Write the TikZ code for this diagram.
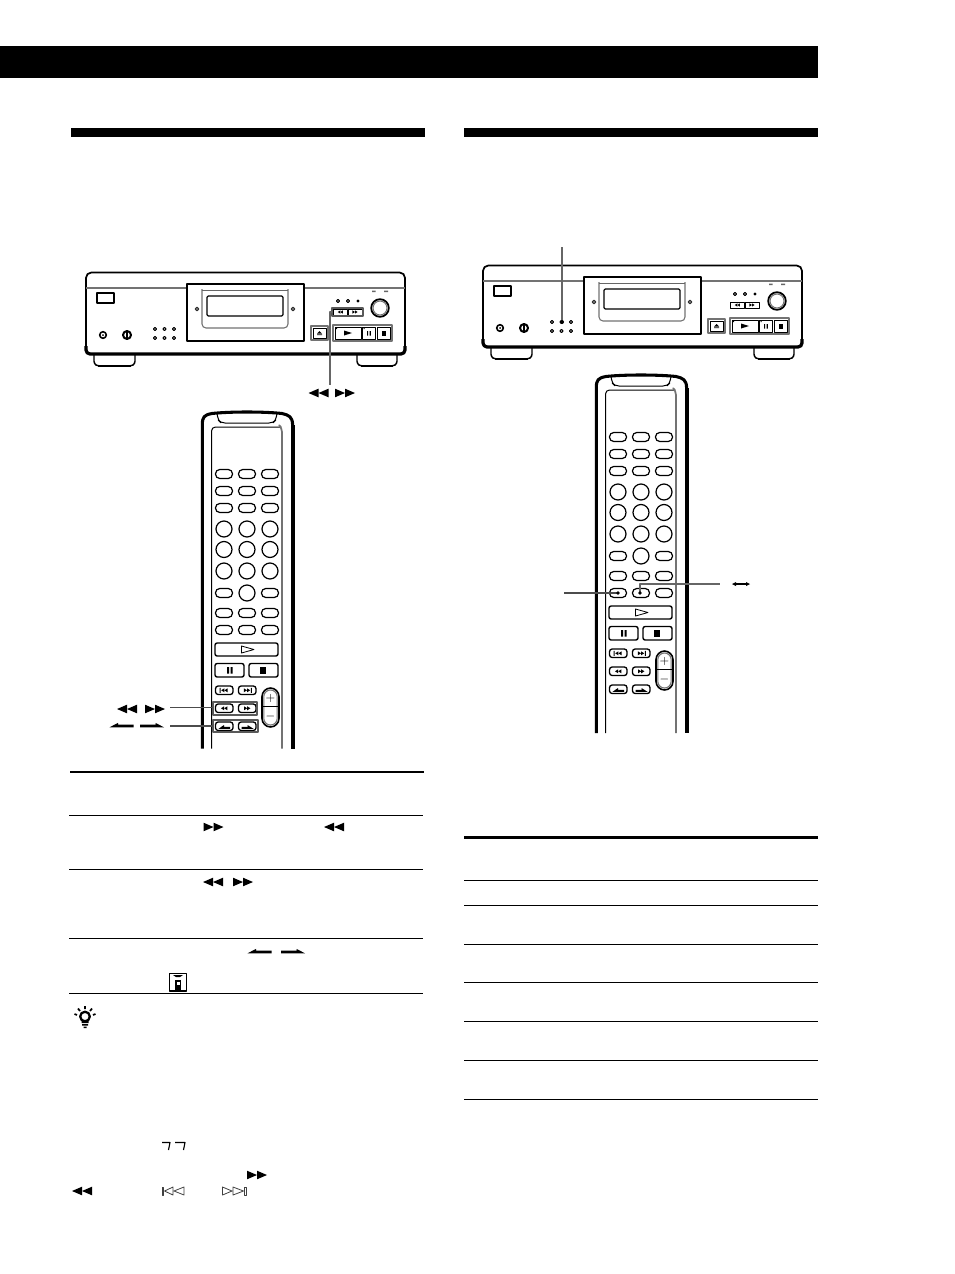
\documentclass[tikz,border=0pt]{standalone}
\begin{document}
\begin{tikzpicture}[x=0.75pt,y=-0.75pt,line join=round,
  every node/.style={inner sep=0,outer sep=0},
  thinl/.style={draw=black,line width=0.75pt},
  midl/.style={draw=black,line width=0.9pt},
  rulel/.style={draw=black,line width=0.75pt},
  ruleh/.style={draw=black,line width=1.9pt},
  hilite/.style={draw=black!65,line width=1.5pt},
  grayb/.style={draw=black!55,line width=0.8pt},
  leader/.style={draw=black!60,line width=1pt},
  leaderb/.style={draw=black!70,line width=1.3pt},
  oval/.style={draw=black,line width=0.9pt,rounded corners=3.2pt},
  keybtn/.style={draw=black,line width=1.05pt,rounded corners=1.6pt},
  smallbtn/.style={draw=black,line width=1pt,rounded corners=2pt},
  pics/ffw/.style={code={\fill (-10,-4.3)--(0,0)--(-10,4.3)--cycle; \fill (0,-4.3)--(10,0)--(0,4.3)--cycle;}},
  pics/rew/.style={code={\fill (10,-4.3)--(0,0)--(10,4.3)--cycle; \fill (0,-4.3)--(-10,0)--(0,4.3)--cycle;}},
  pics/tinyf/.style={code={\fill (-3.2,-2)--(0,0)--(-3.2,2)--cycle; \fill (0,-2)--(3.2,0)--(0,2)--cycle;}},
  pics/tinyr/.style={code={\fill (3.2,-2)--(0,0)--(3.2,2)--cycle; \fill (0,-2)--(-3.2,0)--(0,2)--cycle;}},
  pics/halfl/.style={code={\fill (0,1.8)--(8.5,-2.6)--(8.5,-1)--(24,-1)--(24,1.8)--cycle;}},
  pics/halfr/.style={code={\fill (24,1.8)--(15.5,-2.6)--(15.5,-1)--(0,-1)--(0,1.8)--cycle;}},
]
\useasboundingbox (0,0) rectangle (954,1274);
\fill[white] (0,0) rectangle (954,1274);

% page bars
\fill[black] (0,46) rectangle (818,78);
\fill[black] (71,128) rectangle (425,137);
\fill[black] (464,128) rectangle (818,137);

% player drawing
\newcommand\playerbody[2]{%
\begin{scope}[shift={(#1,#2)}]
  \draw[draw=black,line width=1.1pt,rounded corners=2pt,fill=white] (94,352) -- (94,364) -- (98,366) -- (131,366) -- (135,364) -- (135,352);
  \draw[draw=black,line width=1.1pt,rounded corners=2pt,fill=white] (357,352) -- (357,364) -- (361,366) -- (393,366) -- (397,364) -- (397,352);
  \draw[draw=black,line width=1.7pt] (98,366) -- (131,366) (361,366) -- (393,366);
  \draw[draw=black,line width=1.3pt,rounded corners=4pt,fill=white] (86,272.5) rectangle (405,354);
  \draw[draw=black,line width=2.4pt,rounded corners=3pt] (86,346) -- (86,354) -- (405,354) -- (405,346);
  \draw[grayb] (86,288) -- (187,288) (304,288) -- (405,288);
  \draw[draw=black,line width=1pt] (97,293) rectangle (114,303);
  \draw[draw=black,line width=1.2pt] (103,335) circle (3.3);
  \fill (103,335) circle (1);
  \draw[draw=black,line width=1.5pt] (127,335) circle (4);
  \fill (126.2,330.5) rectangle (128.2,339.5);
  \foreach \x in {155,164.5,174} \foreach \y in {329,338} { \draw[thinl] (\x,\y) circle (1.6); }
  \draw[draw=black,line width=1.05pt,fill=white] (187,284) rectangle (304,341);
  \draw[grayb,rounded corners=3pt] (202,289) -- (202,328) -- (288,328) -- (288,289);
  \draw[draw=black!60,line width=0.7pt] (202,290) -- (288,290);
  \draw[midl,rounded corners=1pt] (207,296) rectangle (283,316);
  \draw[draw=black!80,line width=0.9pt] (197,309) circle (1.8) (293,309) circle (1.8);
  \foreach \x in {338,348} { \draw[thinl] (\x,301) circle (1.6); }
  \fill (358,301) circle (1.7);
  \draw[draw=black,line width=1.35pt] (380,308) circle (8.8);
  \draw[grayb] (380,308) circle (7);
  \fill[black!60] (372,290.5) rectangle (375.5,292.2) (384,290.5) rectangle (388,292.2);
  \draw[grayb] (311,326) rectangle (328,340);
  \draw[thinl] (313,328) rectangle (326,338.5);
  \fill (319.5,331) -- (322,333.5) -- (317,333.5) -- cycle (317,334.3) rectangle (322,335.2);
  \draw[grayb] (333,325) rectangle (392,341);
  \draw[thinl] (335,327) rectangle (361,339);
  \draw[thinl] (362.5,327) rectangle (375,339);
  \draw[thinl] (377,327) rectangle (390,339);
  \fill (344,330.5) -- (352,333) -- (344,335.5) -- cycle;
  \fill (367,331) rectangle (368.2,335.5) (369.6,331) rectangle (370.8,335.5);
  \fill (381.5,331) rectangle (385.5,335.5);
  \fill (336,328) rectangle (337,329) (363.5,328) rectangle (364.5,329);
  \draw[thinl] (333.5,309) rectangle (347,315);
  \draw[thinl] (348,309) rectangle (362,315);
  \pic[scale=.8] at (340.3,312) {tinyr};
  \pic[scale=.8] at (355,312) {tinyf};
\end{scope}}

% remote drawing
\newcommand\remotebody[3]{%
\begin{scope}[shift={(#1,#2)}]
  \draw[draw=black,line width=2.3pt] (202.3,#3) -- (202.3,425) .. controls (202.3,417) and (204,415) .. (212,413.5) .. controls (230,411.5) and (264,411.5) .. (282,413.5) .. controls (289,415) and (292.6,417) .. (292.6,425);
  \draw[draw=black,line width=2.9pt] (292.6,425) -- (292.6,#3);
  \draw[thinl,rounded corners=3pt] (217,413) -- (218,420) -- (221,423) -- (273,423) -- (276,420) -- (277,413);
  \draw[thinl,rounded corners=3pt] (211.5,#3) -- (211.5,427) -- (281,427);
  \draw[draw=black!55,line width=1.3pt,rounded corners=3pt] (281,427) -- (282,428) -- (282,#3);
  \foreach \y in {474,491,508,613,630} \foreach \x in {224,247,270} { \draw[oval] (\x-8.5,\y-4.5) rectangle (\x+8.5,\y+4.5); }
  \foreach \y in {529,549.5,571} \foreach \x in {224,247,270} { \draw[midl] (\x,\y) circle (8); }
  \draw[oval] (224-8.5,593-4.5) rectangle (224+8.5,593+4.5);
  \draw[oval] (270-8.5,593-4.5) rectangle (270+8.5,593+4.5);
  \draw[midl] (247,593) circle (8);
  \draw[keybtn] (215,643) rectangle (278,656);
  \draw[line width=0.6pt] (241.5,646) -- (254,649.5) -- (241.5,653) -- cycle;
  \draw[keybtn] (215,663.5) rectangle (244,677);
  \draw[keybtn] (249,663.5) rectangle (278,677);
  \fill (227,667) rectangle (229,673.5) (230.5,667) rectangle (232.5,673.5);
  \fill (260,667) rectangle (266,673.5);
  \foreach \x in {215.5,238.5} \foreach \y in {686,704,722} { \draw[smallbtn] (\x,\y) rectangle +(17.5,8.5); }
  \pic at (224.2,708.3) {tinyr};
  \pic at (247.2,708.3) {tinyf};
  \pic at (224.4,690.3) {tinyr};
  \pic at (247,690.3) {tinyf};
  \fill (219.6,687.8) rectangle (220.6,692.8) (250.8,687.8) rectangle (251.8,692.8);
  \fill (218.5,728.8) -- (224,725) -- (224,726.8) -- (230,726.8) -- (230,728.8) -- cycle;
  \fill (241.5,728.8) -- (241.5,726.8) -- (247.5,726.8) -- (247.5,725) -- (253.5,728.8) -- cycle;
  \draw[draw=black,line width=1.2pt,rounded corners=6.5pt] (262,688) rectangle (279,727);
  \draw[grayb,rounded corners=5pt] (263.8,690) rectangle (277.2,725);
  \draw[midl] (263,706.5) -- (278,706.5);
  \node (plus#1) at (270.5,698.5) {\fontsize{9}{9}\selectfont $+$};
  \node (minus#1) at (270.5,716) {\fontsize{9}{9}\selectfont $-$};
\end{scope}}

\playerbody{0}{0}
\playerbody{397}{-7}
\remotebody{0}{0}{748.5}
\remotebody{394}{-37}{770}

% === left column connectors ===
\draw[hilite] (332,307.5) rectangle (363,316);
\coordinate (lpA) at (333,312);
\coordinate (lpB) at (330,385);
\draw[leader] (lpA) -- (330,312) -- (lpB);
\pic at (318.5,393) {rew};
\pic at (345,393) {ffw};

\draw[hilite] (213,702) rectangle (257,714.5);
\draw[hilite] (213,719.5) rectangle (257.5,732);
\coordinate (lrA) at (170,707.5);
\coordinate (lrB) at (213,707.5);
\coordinate (lrC) at (170,726);
\coordinate (lrD) at (213,726);
\draw[leaderb] (lrA) -- (lrB);
\draw[leaderb] (lrC) -- (lrD);
\pic at (127,709) {rew};
\pic at (155,709) {ffw};
\pic at (109.5,725.5) {halfl};
\pic at (140,725.5) {halfr};

% left table
\draw[ruleh] (70,772) -- (424,772);
\foreach \y in {815,869,938,993} { \draw[rulel] (69,\y) -- (423,\y); }
\pic at (213.5,827) {ffw};
\pic at (334,827) {rew};
\pic at (213,882) {rew};
\pic at (243,882) {ffw};
\pic at (247.5,951.5) {halfl};
\pic at (281,951.5) {halfr};
% remote icon
\draw[draw=black,line width=0.85pt] (169.5,973.5) rectangle (186.5,991);
\fill (173,975) -- (183,975) -- (180,977) -- (176,977) -- cycle;
\fill (175,980) rectangle (181,989.5);
\fill[white] (176.5,981.5) rectangle (179.5,984.5);

% tip bulb
\draw[draw=black,line width=1.7pt] (85,1016.5) circle (4.8);
\fill (81.5,1021) rectangle (88.5,1023) (82,1024) rectangle (88,1025.5) (83.5,1026.5) rectangle (86.5,1028);
\draw[draw=black,line width=1.3pt] (85,1006) -- (85,1009) (78,1008.5) -- (80,1011) (92,1008.5) -- (90,1011) (74.5,1014) -- (77,1015) (95.5,1014) -- (93,1015);

% glyph fragments near the bottom of the left column
\draw[draw=black,line width=0.85pt] (162,1142.5) -- (170,1142.5) -- (168.5,1150) (175,1142.5) -- (185,1142.5) -- (183.5,1150);
\pic at (257,1175) {ffw};
\pic at (82,1191) {rew};
\draw[draw=black!75,line width=0.6pt] (162,1187) rectangle (163.5,1195);
\draw[draw=black!75,line width=0.6pt] (173,1187) -- (164.5,1191) -- (173,1195) -- cycle (184,1187) -- (174,1191) -- (184,1195) -- cycle;
\draw[draw=black!75,line width=0.6pt] (244.5,1187) rectangle (246,1195);
\draw[draw=black!75,line width=0.6pt] (222.5,1187) -- (232,1191) -- (222.5,1195) -- cycle (233,1187) -- (243.5,1191) -- (233,1195) -- cycle;

% === right column connectors ===
\coordinate (rpA) at (562,247);
\coordinate (rpB) at (562,322);
\draw[leader] (rpA) -- (rpB);
\fill (rpB) circle (2);

\coordinate (rrA) at (564,593);
\coordinate (rrB) at (618,593);
\draw[leaderb] (rrA) -- (rrB);
\fill (rrB) circle (1.8);
\coordinate (rrC) at (640,593);
\coordinate (rrD) at (720,584);
\draw[leader] (rrC) -- (640,584) -- (rrD);
\fill (rrC) circle (1.8);
\draw[draw=black,line width=0.8pt] (734,584) -- (748,584);
\fill (732,584) -- (736,582) -- (736,586) -- cycle;
\fill (750,584) -- (746,582) -- (746,586) -- cycle;

% right table
\draw[ruleh] (464,837.5) -- (818,837.5);
\foreach \y in {880,905,944,982,1021,1060,1099} { \draw[rulel] (464,\y) -- (818,\y); }
\end{tikzpicture}
\end{document}
